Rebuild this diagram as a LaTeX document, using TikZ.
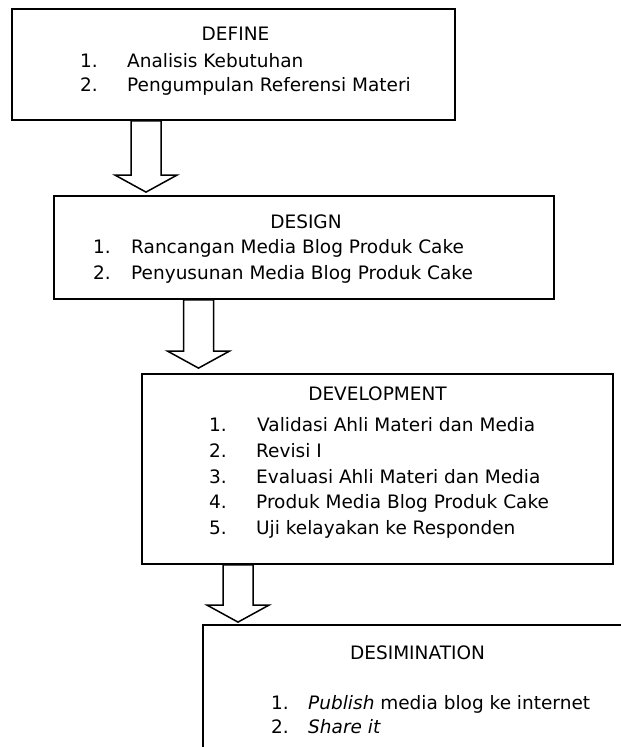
\documentclass[tikz,border=0pt]{standalone}
\usepackage{fontspec}
\setmainfont{DejaVu Sans}
\usetikzlibrary{calc}
\begin{document}
\begin{tikzpicture}[x=1pt,y=-1pt,
  stage/.style={draw, line width=1.8pt, fill=white, inner sep=0pt},
  blockarrow/.style={draw, line width=1.5pt, fill=white, line join=miter},
  txt/.style={inner sep=0pt, anchor=base west, font=\fontsize{18.5}{25.5}\selectfont},
  ttl/.style={inner sep=0pt, anchor=base, font=\fontsize{18.5}{25.5}\selectfont}]
\useasboundingbox (0,0) rectangle (621,747);
\clip (0,0) rectangle (621,747);
% boxes
\node[stage, minimum width=443pt, minimum height=111pt] (define) at (233.5,64.5) {};
\node[stage, minimum width=500pt, minimum height=103pt] (design) at (304,247.5) {};
\node[stage, minimum width=471pt, minimum height=190pt] (devel) at (377.5,469) {};
\node[stage, minimum width=437pt, minimum height=155pt] (desim) at (421.5,702.5) {};
% block arrows
\newcommand\blkarrow[2]{%
  \draw[blockarrow] ($(#1)+(-15,0)$) -- ($(#2)+(-15,-17)$) -- ($(#2)+(-31,-17)$)
    -- (#2) -- ($(#2)+(31,-17)$) -- ($(#2)+(15,-17)$) -- ($(#1)+(15,0)$) -- cycle;}
\coordinate (a1s) at ([xshift=-87.5pt]define.south);
\coordinate (a1t) at ($(design.north -| a1s)+(0,-3)$);
\blkarrow{a1s}{a1t}
\coordinate (a2s) at ([xshift=-105.5pt]design.south);
\coordinate (a2t) at ($(devel.north -| a2s)+(0,-5)$);
\blkarrow{a2s}{a2t}
\coordinate (a3s) at ([xshift=-139.5pt]devel.south);
\coordinate (a3t) at ($(desim.north -| a3s)+(0,-2)$);
\blkarrow{a3s}{a3t}
% DEFINE text
\node[ttl] (t1) at (235.5,40) {DEFINE};
\node[txt] (t1n1) at (80,67) {1.};
\node[txt] (t1i1) at (127,67) {Analisis Kebutuhan};
\node[txt] (t1n2) at (80,91.5) {2.};
\node[txt] (t1i2) at (127,91.5) {Pengumpulan Referensi Materi};
% DESIGN text
\node[ttl] (t2) at (306,228) {DESIGN};
\node[txt] (t2n1) at (93,253.5) {1.};
\node[txt] (t2i1) at (131,253.5) {Rancangan Media Blog Produk Cake};
\node[txt] (t2n2) at (93,279.5) {2.};
\node[txt] (t2i2) at (131,279.5) {Penyusunan Media Blog Produk Cake};
% DEVELOPMENT text
\node[ttl] (t3) at (377.5,400) {DEVELOPMENT};
\node[txt] (t3n1) at (209,431.5) {1.};
\node[txt] (t3i1) at (257,431.5) {Validasi Ahli Materi dan Media};
\node[txt] (t3n2) at (209,457.5) {2.};
\node[txt] (t3i2) at (256,457.5) {Revisi I};
\node[txt] (t3n3) at (209,483.5) {3.};
\node[txt] (t3i3) at (256,483.5) {Evaluasi Ahli Materi dan Media};
\node[txt] (t3n4) at (209,508.5) {4.};
\node[txt] (t3i4) at (256,508.5) {Produk Media Blog Produk Cake};
\node[txt] (t3n5) at (209,534.5) {5.};
\node[txt] (t3i5) at (256,534.5) {Uji kelayakan ke Responden};
% DESIMINATION text
\node[ttl] (t4) at (417.5,659) {DESIMINATION};
\node[txt] (t4n1) at (271,709.5) {1.};
\node[txt] (t4i1) at (308,709.5) {\textit{Publish} media blog ke internet};
\node[txt] (t4n2) at (271,733.5) {2.};
\node[txt] (t4i2) at (308,733.5) {\textit{Share it}};
\end{tikzpicture}
\end{document}
